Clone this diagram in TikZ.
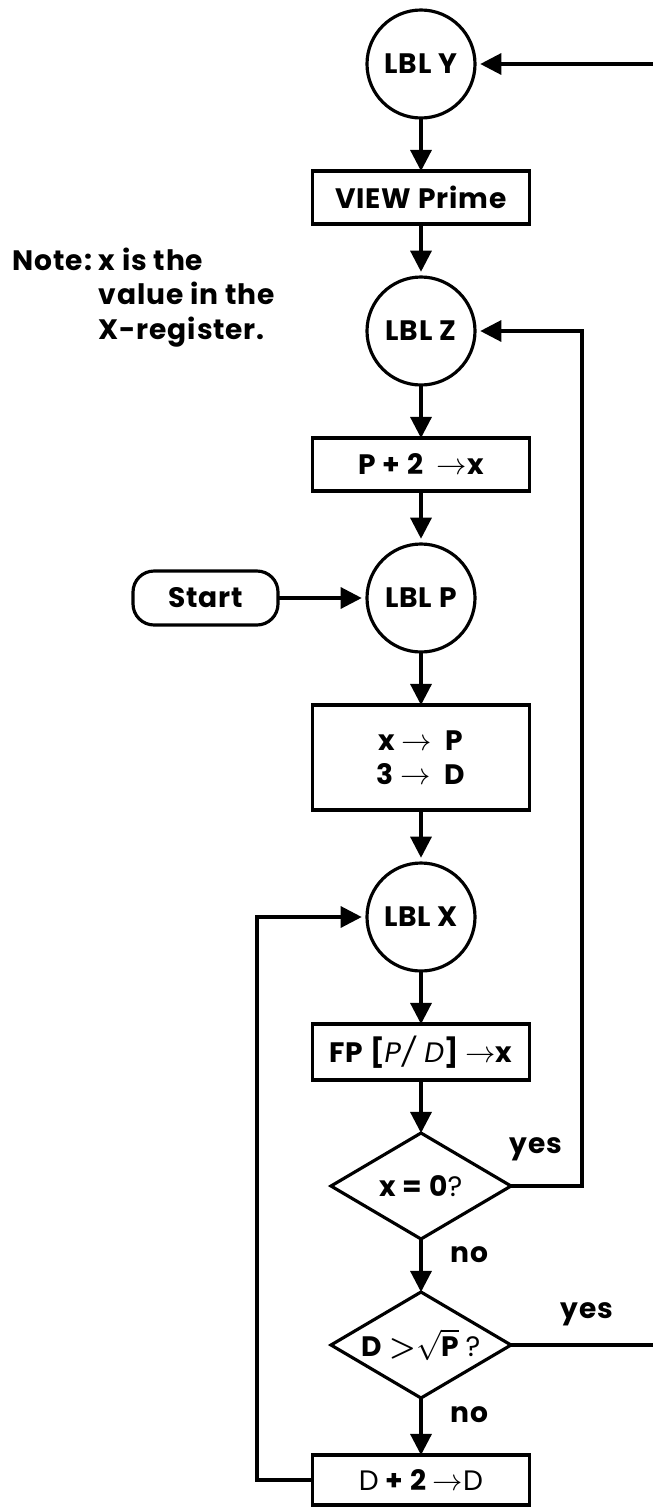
\documentclass[tikz,border=0pt]{standalone}
\usepackage{fontspec}
\setmainfont{Poppins}[LetterSpace=3]
\usepackage{amsmath}
\usepackage{tikz}
\usetikzlibrary{shapes.geometric, arrows.meta, positioning, calc}

\begin{document}
\begin{tikzpicture}[
  font=\fontsize{16}{19.6}\selectfont\bfseries,
  lblcirc/.style={circle, draw, line width=1.8pt, outer sep=0pt, minimum size=2.16cm, inner sep=0pt},
  proc/.style={rectangle, draw, line width=1.8pt, outer sep=0pt, minimum width=4.34cm, minimum height=1.06cm, align=center},
  decision/.style={diamond, draw, line width=1.8pt, outer sep=0pt, minimum width=3.6cm, minimum height=2.12cm, inner sep=0pt, shape aspect=1.7},
  terminal/.style={rectangle, draw, rounded corners=12pt, line width=1.8pt, outer sep=0pt, minimum width=2.9cm, minimum height=1.08cm},
  arrow/.style={-{Triangle[length=12pt,width=12pt]}, line width=1.8pt},
  node distance=1.06cm
]
  \useasboundingbox (0,0) rectangle (13.06,-30.16);

  \node[lblcirc] (lbly) at (8.42,-1.28) {LBL Y};
  \node[proc, below=of lbly] (view) {VIEW Prime};
  \node[lblcirc, below=of view] (lblz) {LBL Z};
  \node[proc, below=of lblz] (pplus) {P + 2 \ $\rightarrow$x};
  \node[lblcirc, below=of pplus] (lblp) {LBL P};
  \node[terminal, left=1.78cm of lblp] (start) {Start};
  \node[proc, below=of lblp, minimum height=2.1cm] (store) {x $\rightarrow$ \ P\\3 $\rightarrow$ \ D};
  \node[lblcirc, below=of store] (lblx) {LBL X};
  \node[proc, below=of lblx, minimum height=1.12cm] (fp) {FP [{\mdseries\itshape P/ D}] $\rightarrow$x};
  \node[decision, below=of fp] (iszero) {x = 0{\mdseries ?}};
  \node[decision, below=of iszero] (issqrt) {D {\boldmath$>$}$\sqrt{\text{\bfseries P}}$ {\mdseries ?}};
  \node[proc, below=1.14cm of issqrt, minimum height=1.0cm] (incd) {{\mdseries D} + 2 $\rightarrow${\mdseries D}};

  \node[anchor=north west, inner sep=0pt] (note) at (0.25,-4.92)
    {\begin{tabular}{@{}l@{\ }l@{}}Note: & x is the\\ & value in the\\ & X-register.\end{tabular}};

  \coordinate (yin) at ($(lbly)+(4.64,0)$);
  \coordinate[right=2.14cm of lblz.east] (zloop);
  \coordinate[left=2.2cm of lblx.west] (xloop);
  \coordinate (yout) at (issqrt.east -| yin);

  \draw[arrow, shorten >=3pt] (yin) -- (lbly.east);
  \draw[arrow] (lbly) -- (view);
  \draw[arrow, shorten >=3pt] (view) -- (lblz);
  \draw[arrow] (lblz) -- (pplus);
  \draw[arrow, shorten >=3pt] (pplus) -- (lblp);
  \draw[arrow, shorten >=3pt] (start) -- (lblp);
  \draw[arrow] (lblp) -- (store);
  \draw[arrow, shorten >=3pt] (store) -- (lblx);
  \draw[arrow] (lblx) -- (fp);
  \draw[arrow] (fp) -- (iszero);
  \draw[arrow] (iszero) -- node[pos=0.3, anchor=west, xshift=0.45cm] {no} (issqrt);
  \draw[arrow] (issqrt) -- node[pos=0.3, anchor=west, xshift=0.45cm] {no} (incd);
  \draw[arrow, shorten >=3pt] (iszero.east) -| (zloop) -- (lblz.east);
  \draw[line width=1.8pt] (issqrt.east) -- (yout);
  \draw[arrow, shorten >=3pt] (incd.west) -| (xloop) -- (lblx.west);

  \node (yeszero) at ($(iszero.east)+(0.5,0.74)$) {yes};
  \node (yessqrt) at ($(issqrt.east)+(1.52,0.62)$) {yes};
\end{tikzpicture}
\end{document}
